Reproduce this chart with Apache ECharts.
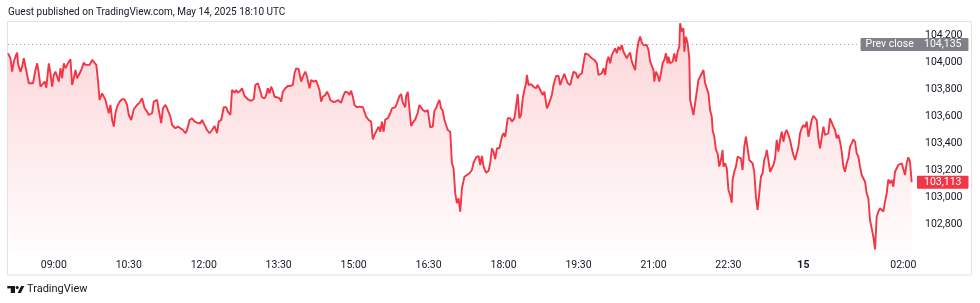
<!DOCTYPE html>
<html>
<head>
<meta charset="utf-8">
<script src="https://cdn.jsdelivr.net/npm/echarts@6/dist/echarts.min.js"></script>
<style>
html,body{margin:0;padding:0;background:#ffffff;}
#c{width:980px;height:303px;}
</style>
</head>
<body>
<div id="c"></div>
<script>
// time in minutes since 2025-05-14 00:00 (chart local time)
const times = [
485,488,490,492,494,496,497,498,500,502,
504,506,508,510,512,515,518,520,522,524,
526,529,531,534,536,538,540,542,544,546,
548,550,552,554,556,558,560,562,564,566,
568,570,573,576,578,580,583,586,588,591,
593,595,598,600,602,604,606,608,610,612,
614,616,619,622,625,628,630,633,636,640,
643,646,649,652,654,658,660,664,666,669,
671,674,676,680,682,686,689,692,695,698,
700,703,706,709,712,716,718,722,724,727,
730,733,736,738,741,744,747,749,752,754,
757,759,761,764,766,769,771,774,777,780,
782,785,787,790,793,795,797,799,801,803,
805,808,811,813,815,818,821,824,827,829,
831,834,837,839,842,844,847,849,852,855,
857,859,861,863,866,868,870,872,875,878,
881,883,885,888,890,893,895,897,899,901,
904,907,911,913,915,918,921,923,925,927,
930,932,934,936,938,941,944,946,950,952,
955,957,959,962,963,965,967,969,971,974,
977,979,981,983,986,989,992,995,997,999,
1001,1003,1005,1007,1009,1011,1013,1016,1018,1020,
1022,1024,1026,1028,1030,1033,1036,1039,1042,1044,
1047,1050,1052,1054,1056,1059,1062,1064,1066,1068,
1070,1072,1075,1078,1080,1082,1085,1088,1090,1093,
1095,1097,1099,1101,1103,1105,1107,1108,1110,1113,
1116,1119,1121,1123,1125,1127,1129,1130,1132,1134,
1136,1138,1140,1143,1146,1148,1150,1153,1155,1157,
1160,1162,1164,1167,1169,1171,1174,1176,1178,1180,
1182,1184,1186,1189,1192,1194,1196,1198,1200,1202,
1204,1206,1208,1210,1212,1214,1216,1218,1220,1222,
1224,1226,1228,1230,1232,1234,1236,1238,1240,1242,
1244,1246,1248,1250,1252,1254,1256,1258,1260,1261,
1263,1265,1267,1269,1271,1273,1275,1277,1278,1280,
1283,1285,1287,1289,1291,1292,1294,1296,1297,1299,
1301,1303,1304,1306,1308,1310,1312,1314,1316,1318,
1320,1322,1324,1326,1328,1330,1331,1333,1335,1337,
1339,1341,1343,1344,1346,1348,1350,1352,1354,1355,
1357,1359,1361,1363,1365,1367,1369,1371,1373,1375,
1377,1379,1381,1383,1385,1387,1389,1391,1393,1395,
1396,1398,1400,1402,1404,1406,1408,1410,1412,1414,
1416,1418,1420,1422,1424,1426,1428,1430,1432,1434,
1436,1438,1440,1442,1444,1446,1448,1450,1452,1454,
1456,1458,1460,1462,1464,1466,1468,1470,1472,1474,
1476,1478,1480,1482,1484,1486,1488,1490,1492,1494,
1496,1498,1500,1502,1504,1506,1508,1510,1512,1514,
1516,1518,1520,1522,1524,1526,1527,1528,1530,1532,
1534,1536,1538,1540,1542,1544,1546,1548,1550,1552,
1554,1556,1558,1560,1562,1564,1566,1568,1570
];
const prices = [
104069,104032,103933,104007,104044,104074,103995,103970,103933,103970,
104032,104020,103908,103847,103859,103847,103945,103995,103921,103821,
103810,103859,103814,103995,103921,103821,103908,103933,103921,103859,
103958,103884,103995,103958,103983,104007,104025,103834,103884,103945,
103884,103871,103945,104000,103983,103995,103983,104020,104014,103983,
103871,103723,103772,103784,103723,103673,103624,103686,103574,103525,
103624,103673,103710,103728,103728,103686,103611,103574,103654,103686,
103703,103735,103661,103636,103611,103624,103710,103723,103648,103550,
103661,103686,103661,103599,103537,103513,103525,103513,103500,103476,
103500,103574,103587,103562,103554,103550,103574,103525,103500,103476,
103500,103530,103476,103562,103574,103669,103669,103636,103611,103797,
103777,103797,103777,103792,103810,103752,103743,103723,103717,103728,
103834,103847,103810,103743,103735,103760,103810,103772,103821,103792,
103747,103743,103735,103710,103784,103810,103827,103827,103834,103921,
103958,103951,103859,103896,103933,103896,103810,103871,103859,103866,
103834,103797,103710,103747,103760,103784,103760,103723,103710,103710,
103723,103735,103703,103760,103784,103777,103760,103792,103747,103686,
103669,103673,103669,103678,103599,103574,103562,103431,103463,103463,
103525,103487,103562,103487,103579,103587,103624,103661,103669,103698,
103752,103767,103703,103669,103752,103784,103654,103530,103554,103579,
103628,103686,103698,103648,103636,103648,103520,103525,103643,103661,
103698,103723,103661,103643,103574,103562,103500,103487,103253,103216,
103030,102956,102993,102894,103067,103153,103166,103179,103203,103257,
103297,103307,103240,103307,103228,103183,103198,103253,103364,103339,
103283,103364,103364,103450,103476,103450,103587,103587,103562,103587,
103673,103767,103587,103611,103735,103797,103847,103908,103834,103841,
103821,103810,103834,103810,103784,103760,103784,103797,103661,103686,
103723,103760,103834,103901,103901,103834,103871,103916,103908,103847,
103834,103884,103933,103921,103884,103908,103921,103925,104069,104081,
104057,104069,104032,104020,103995,103908,103896,103921,103958,103908,
104007,104044,103995,104057,104069,104106,104069,104118,104094,104131,
104081,104057,104032,104057,104074,104007,104020,103945,104081,104155,
104193,104148,104131,104138,104131,104094,104007,103995,103945,103859,
103933,103908,103859,103921,103995,104020,104069,103995,104044,103995,
104007,104069,104007,104081,104118,104292,104230,104255,104081,104193,
104144,104032,103723,103723,103611,103624,103784,103871,103884,103921,
103945,103847,103859,103772,103648,103599,103500,103450,103352,103327,
103228,103277,103352,103228,103253,103216,103055,103018,102960,103129,
103190,103228,103302,103314,103290,103203,103376,103450,103463,103277,
103265,103253,103190,103005,102906,103030,103153,103179,103277,103314,
103352,103277,103190,103179,103240,103290,103426,103339,103426,103487,
103413,103476,103500,103513,103426,103364,103314,103277,103327,103376,
103476,103513,103537,103520,103562,103450,103463,103574,103604,103611,
103574,103438,103364,103357,103525,103463,103463,103476,103587,103587,
103525,103500,103438,103463,103413,103339,103228,103190,103253,103290,
103376,103401,103431,103413,103327,103302,103228,103166,103153,103116,
103030,102993,102832,102819,102708,102614,102733,102856,102894,102919,
102919,102894,102968,103030,103134,103104,103129,103079,103190,103179,
103240,103228,103253,103240,103166,103253,103297,103265,103113
];
const yTickValues = [102800,103000,103200,103400,103600,103800,104000,104200];
const xTickTimes = [540,630,720,810,900,990,1080,1170,1260,1350,1440,1560];
const prevClose = 104135;
const lastPrice = 103113;
const headerText = 'Guest published on TradingView.com, May 14, 2025 18:10 UTC';
const brandText = 'TradingView';
const prevCloseText = 'Prev close';

const FONT = 'Roboto, "Liberation Sans", sans-serif';
const RED = '#f23645';
const TEXT = '#131722';
const GREY_TAG = '#7f8088';
const HIDDEN = 'rgba(0,0,0,0)';

function fmtNum(v) {
  const s = String(Math.round(v));
  return s.replace(/\B(?=(\d{3})+(?!\d))/g, ',');
}
function fmtTime(m) {
  if (m % 1440 === 0) return '{b|' + (14 + m / 1440) + '}';
  const mm = m % 1440;
  const h = Math.floor(mm / 60), mi = mm % 60;
  return (h < 10 ? '0' : '') + h + ':' + (mi < 10 ? '0' : '') + mi;
}

const xMin = 485, xMax = 1574;
const prevCloseEnd = 1505;

function tagLabel(text, bg) {
  return {show: true, position: 'end', distance: 2, formatter: text, color: '#ffffff',
          backgroundColor: bg, fontFamily: FONT, fontSize: 10.5, padding: [1, 7, 1, 7],
          lineHeight: 11, borderRadius: 1};
}

const chart = echarts.init(document.getElementById('c'), null, {renderer: 'canvas'});
const option = {
  animation: false,
  backgroundColor: '#ffffff',
  grid: {left: 8, right: 65, top: 22.2, bottom: 51.75, containLabel: false},
  xAxis: {
    type: 'value', min: xMin, max: xMax,
    axisLine: {show: false}, axisTick: {show: false}, splitLine: {show: false},
    axisLabel: {
      customValues: xTickTimes, formatter: fmtTime,
      color: TEXT, fontSize: 10.5, fontFamily: FONT, margin: 9,
      rich: {b: {fontWeight: 'bold', fontSize: 10.5, color: TEXT, fontFamily: FONT}}
    }
  },
  yAxis: {
    type: 'value', position: 'right', min: 102600, max: 104300,
    axisLine: {show: false}, axisTick: {show: false}, splitLine: {show: false},
    axisLabel: {customValues: yTickValues, formatter: fmtNum, color: TEXT, fontSize: 10.5, fontFamily: FONT, margin: 10}
  },
  series: [{
    type: 'line',
    data: times.map((t, i) => [t, prices[i]]),
    symbol: 'none', showSymbol: false, smooth: false,
    lineStyle: {color: RED, width: 1.9},
    areaStyle: {
      origin: 'start',
      color: new echarts.graphic.LinearGradient(0, 0, 0, 1, [
        {offset: 0, color: 'rgba(242,54,69,0.30)'},
        {offset: 1, color: 'rgba(242,54,69,0.02)'}
      ])
    },
    z: 3,
    markLine: {
      symbol: 'none', silent: true, animation: false,
      data: [
        [
          {coord: [xMin, prevClose], lineStyle: {color: '#a3a6af', width: 1, type: [1, 3]},
           label: {show: true, position: 'end', distance: 3, formatter: prevCloseText, color: '#ffffff',
                   backgroundColor: GREY_TAG, fontFamily: FONT, fontSize: 10.5, padding: [1, 5, 1, 5], lineHeight: 11, borderRadius: 1}},
          {coord: [prevCloseEnd, prevClose]}
        ],
        [
          {coord: [xMax - 1, prevClose], lineStyle: {color: HIDDEN, width: 0}, label: tagLabel(fmtNum(prevClose), GREY_TAG)},
          {coord: [xMax, prevClose]}
        ],
        [
          {coord: [xMax - 1, lastPrice], lineStyle: {color: HIDDEN, width: 0}, label: tagLabel(fmtNum(lastPrice), RED)},
          {coord: [xMax, lastPrice]}
        ]
      ]
    }
  }],
  graphic: [
    {type: 'rect', z: -1, silent: true,
     shape: {x: 7.5, y: 21.5, width: 964, height: 253.5},
     style: {fill: 'none', stroke: '#e0e3eb', lineWidth: 1}},
    {type: 'text', left: 8, top: 7.5, silent: true,
     style: {text: headerText, fill: TEXT, font: '10px ' + FONT}},
    {type: 'group', silent: true, children: [
      {type: 'rect', shape: {x: 7.3, y: 286, width: 7.7, height: 2.4}, style: {fill: TEXT}},
      {type: 'rect', shape: {x: 10.8, y: 286, width: 4.2, height: 7}, style: {fill: TEXT}},
      {type: 'circle', shape: {cx: 17.2, cy: 287.4, r: 1.5}, style: {fill: TEXT}},
      {type: 'polygon', shape: {points: [[17.6, 293], [20.8, 293], [24.3, 286], [21.1, 286]]}, style: {fill: TEXT}}
    ]},
    {type: 'text', left: 27, top: 284, silent: true,
     style: {text: brandText, fill: TEXT, font: '11px ' + FONT}}
  ]
};
chart.setOption(option);
</script>
</body>
</html>
